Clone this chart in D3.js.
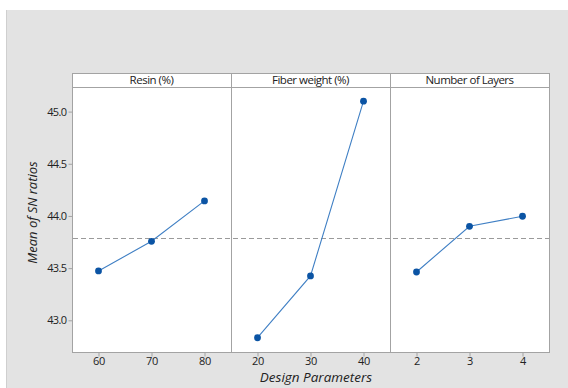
<!DOCTYPE html>
<html>
<head>
<meta charset="utf-8">
<script src="https://cdn.jsdelivr.net/npm/d3@7"></script>
<style>
  html, body { margin: 0; padding: 0; background: #ffffff; }
  svg { display: block; }
  text { font-family: "Open Sans", "Noto Sans", sans-serif; fill: #222; }
</style>
</head>
<body>
<svg id="chart" width="568" height="388"></svg>
<script>
// Main effects plot for SN ratios
const factors = ["Resin (%)", "Fiber weight (%)", "Number of Layers"];
const resinLevels = [60, 70, 80];
const resinSN = [43.473, 43.757, 44.144];
const fiberLevels = [20, 30, 40];
const fiberSN = [42.833, 43.425, 45.100];
const layerLevels = [2, 3, 4];
const layerSN = [43.463, 43.901, 43.997];
const yTicks = [43.0, 43.5, 44.0, 44.5, 45.0];
const grandMean = 43.786;

const panels = [
  { name: factors[0], levels: resinLevels, values: resinSN },
  { name: factors[1], levels: fiberLevels, values: fiberSN },
  { name: factors[2], levels: layerLevels, values: layerSN }
];

const svg = d3.select("#chart");

// grey page backdrop
svg.append("rect").attr("x", 6).attr("y", 10).attr("width", 562).attr("height", 378)
  .attr("fill", "#e3e3e3");
svg.append("line").attr("x1", 6.5).attr("x2", 6.5).attr("y1", 10).attr("y2", 388)
  .attr("stroke", "#cfcfcf");

const frame = { left: 72, right: 549, top: 73, strip: 87, bottom: 352 };
const panelW = (frame.right - frame.left) / panels.length;

const y = d3.scaleLinear().domain([43.0, 45.0]).range([320.3, 111.6]);

// plotting area
svg.append("rect")
  .attr("x", frame.left + 0.5).attr("y", frame.top + 0.5)
  .attr("width", frame.right - frame.left).attr("height", frame.bottom - frame.top)
  .attr("fill", "#ffffff").attr("stroke", "#a3a3a3");

svg.append("line")
  .attr("x1", frame.left).attr("x2", frame.right)
  .attr("y1", frame.strip + 0.5).attr("y2", frame.strip + 0.5)
  .attr("stroke", "#a3a3a3");

// y axis
const yAxis = d3.axisLeft(y).tickValues(yTicks).tickFormat(d3.format(".1f")).tickSize(4).tickPadding(2);
const gy = svg.append("g").attr("transform", `translate(${frame.left + 0.5},0)`).call(yAxis);
gy.select(".domain").remove();
gy.selectAll(".tick line").attr("stroke", "#a3a3a3");
gy.selectAll(".tick text").attr("font-size", 11).attr("fill", "#222")
  .attr("font-family", "'Open Sans', sans-serif").attr("letter-spacing", "-0.6px");

// grand mean reference line
svg.append("line")
  .attr("x1", frame.left + 1).attr("x2", frame.right)
  .attr("y1", Math.round(y(grandMean)) + 0.5).attr("y2", Math.round(y(grandMean)) + 0.5)
  .attr("stroke", "#9a9a9a").attr("stroke-dasharray", "5,3").attr("stroke-width", 1);

panels.forEach((p, i) => {
  const x0 = frame.left + i * panelW;
  const x1 = x0 + panelW;
  const step = p.levels[1] - p.levels[0];
  const x = d3.scaleLinear()
    .domain([p.levels[0] - step / 2, p.levels[p.levels.length - 1] + step / 2])
    .range([x0, x1]);

  if (i > 0) {
    svg.append("line").attr("x1", Math.round(x0) + 0.5).attr("x2", Math.round(x0) + 0.5)
      .attr("y1", frame.top).attr("y2", frame.bottom).attr("stroke", "#a3a3a3");
  }

  svg.append("text")
    .attr("x", (x0 + x1) / 2).attr("y", frame.top + 11)
    .attr("text-anchor", "middle").attr("font-size", 11.5).attr("letter-spacing", "-0.5px")
    .text(p.name);

  const xAxis = d3.axisBottom(x).tickValues(p.levels).tickFormat(d3.format("d")).tickSize(4).tickPadding(1);
  const gx = svg.append("g").attr("transform", `translate(0,${frame.bottom + 0.5})`).call(xAxis);
  gx.select(".domain").remove();
  gx.selectAll(".tick line").attr("stroke", "#a3a3a3");
  gx.selectAll(".tick text").attr("font-size", 11).attr("fill", "#222")
    .attr("font-family", "'Open Sans', sans-serif").attr("letter-spacing", "-0.4px");

  const pts = p.levels.map((lv, k) => [x(lv), y(p.values[k])]);
  svg.append("path")
    .attr("d", d3.line()(pts))
    .attr("fill", "none").attr("stroke", "#3f7fc4").attr("stroke-width", 1.1);
  svg.append("g").selectAll("circle").data(pts).join("circle")
    .attr("cx", d => d[0]).attr("cy", d => d[1]).attr("r", 3.4)
    .attr("fill", "#0b54a4");
});

// axis titles
svg.append("text")
  .attr("transform", `translate(37,${(frame.top + frame.bottom) / 2}) rotate(-90)`)
  .attr("text-anchor", "middle").attr("font-size", 13).attr("font-style", "italic")
  .text("Mean of SN ratios");

svg.append("text")
  .attr("x", 316).attr("y", 382)
  .attr("text-anchor", "middle").attr("font-size", 13.5).attr("font-style", "italic")
  .text("Design Parameters");
</script>
</body>
</html>
